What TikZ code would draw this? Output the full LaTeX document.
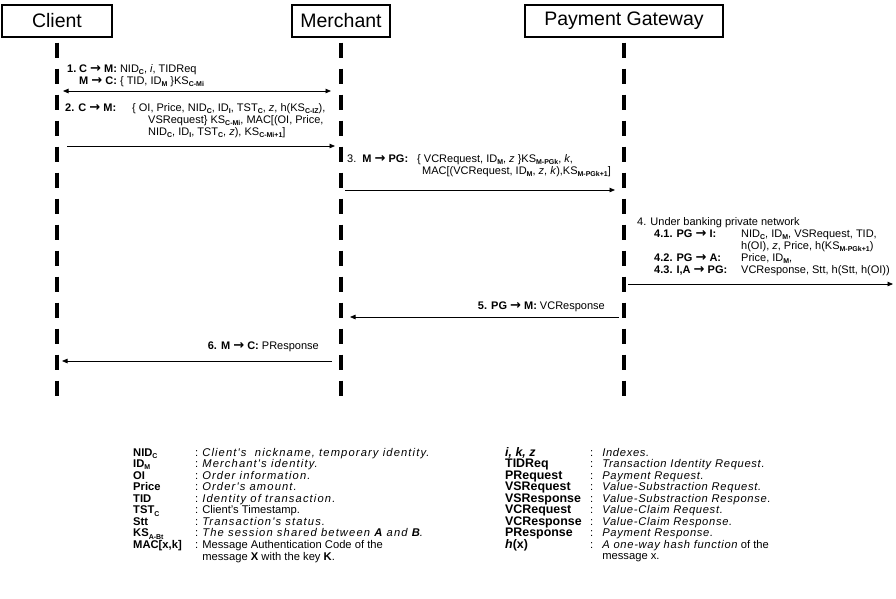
\documentclass[tikz,border=0pt]{standalone}
\usepackage{fontspec}
\setmainfont{Liberation Sans}
\newfontfamily\wideface{Liberation Sans}[LetterSpace=6]
\newfontfamily\widerface{Liberation Sans}[LetterSpace=10]
\newfontfamily\arrowface{DejaVu Sans}
\usetikzlibrary{arrows.meta}

% small bold lowered index
\newcommand\lo[1]{\raisebox{-2.3pt}{\fontsize{7}{8}\selectfont\bfseries #1}}
% arrow sign used inside the message texts
\newcommand\arr{\smash{\raisebox{-0.8pt}{\arrowface\fontsize{13}{12}\selectfont →}}}
\newcommand\msgfont{\fontsize{11}{12}\selectfont}
\newcommand\legfont{\fontsize{11.2}{11.5}\selectfont}
\newcommand\dsc[1]{{\wideface\itshape #1}}
\newcommand\dscw[1]{{\widerface\itshape #1}}
\newcommand\term[1]{\smash{\fontsize{12.4}{12}\selectfont\bfseries #1}}
\renewcommand\arraystretch{1}

\begin{document}
\begin{tikzpicture}[x=1pt,y=-1pt,
  actor/.style={draw, line width=1.3pt, minimum height=32pt, inner sep=0pt,
                font=\fontsize{19.5}{20}\selectfont},
  lifeline/.style={line width=3.2pt, dash pattern=on 15pt off 11pt},
  msgline/.style={line width=0.8pt, -{Triangle[length=5.5pt,width=4.5pt]}},
  bothline/.style={line width=0.8pt, {Triangle[length=5.5pt,width=4.5pt]}-{Triangle[length=5.5pt,width=4.5pt]}},
  txt/.style={inner sep=0pt, anchor=base west, font=\msgfont},
  txtr/.style={inner sep=0pt, anchor=base east, font=\msgfont},
  legend/.style={inner sep=0pt, anchor=base west, font=\legfont}]
\useasboundingbox (0,0) rectangle (896,598);

% participants
\node[actor, minimum width=110pt] (client) at (57,21) {Client};
\node[actor, minimum width=98pt] (merchant) at (341,21) {Merchant};
\node[actor, minimum width=198pt] (pg) at (624,21) {Payment Gateway};

% lifelines
\coordinate (clientEnd) at (57,398);
\coordinate (merchantEnd) at (341,398);
\coordinate (pgEnd) at (624,398);
\draw[lifeline] ([yshift=-5pt]client.south) -- (clientEnd);
\draw[lifeline] ([yshift=-5pt]merchant.south) -- (merchantEnd);
\draw[lifeline] ([yshift=-5pt]pg.south) -- (pgEnd);

% message 1
\node[txt] (m1) at (67,72) {\begin{tabular}[t]{@{}l@{}l@{}}
  \makebox[12pt][l]{\textbf{1.}} & \textbf{C \arr\ M:} NID\lo{C}, \textit{i}, TIDReq\\
  & \textbf{M \arr\ C:} \{ TID, ID\lo{M} \}KS\lo{C-Mi}
\end{tabular}};
\coordinate (a1s) at (63,91);
\coordinate (a1e) at (331,91);
\draw[bothline] (a1s) -- (a1e);

% message 2
\node[txt] (m2) at (65,111) {\begin{tabular}[t]{@{}l@{}l@{}}
  \makebox[67pt][l]{\textbf{2. C \arr\ M:}} & \{ OI, Price, NID\lo{C}, ID\lo{I}, TST\lo{C}, \textit{z}, h(KS\lo{C-IZ}),\\
  & \hspace{16pt}VSRequest\} KS\lo{C-Mi}, MAC[(OI, Price,\\
  & \hspace{16pt}NID\lo{C}, ID\lo{I}, TST\lo{C}, \textit{z}), KS\lo{C-Mi+1}]
\end{tabular}};
\coordinate (a2s) at (67,146);
\coordinate (a2e) at (335,146);
\draw[msgline] (a2s) -- (a2e);

% message 3
\node[txt] (m3) at (347,162) {\begin{tabular}[t]{@{}l@{}l@{}}
  \makebox[70pt][l]{3.\ \ \textbf{M \arr\ PG:}} & \{ VCRequest, ID\lo{M}, \textit{z} \}KS\lo{M-PGk}, \textit{k},\\
  & \hspace{5pt}MAC[(VCRequest, ID\lo{M}, \textit{z}, \textit{k}),KS\lo{M-PGk+1}]
\end{tabular}};
\coordinate (a3s) at (345,190);
\coordinate (a3e) at (615,190);
\draw[msgline] (a3s) -- (a3e);

% message 4
\node[txt] (m4) at (637,225) {\begin{tabular}[t]{@{}l@{}l@{}l@{}}
  \multicolumn{3}{@{}l@{}}{4. Under banking private network}\\
  \hspace{17pt} & \makebox[87pt][l]{\textbf{4.1. PG \arr\ I:}} & NID\lo{C}, ID\lo{M}, VSRequest, TID,\\
  & & h(OI), \textit{z}, Price, h(KS\lo{M-PGk+1})\\
  & \textbf{4.2. PG \arr\ A:} & Price, ID\lo{M},\\
  & \textbf{4.3. I,A \arr\ PG:} & VCResponse, Stt, h(Stt, h(OI))
\end{tabular}};
\coordinate (a4s) at (628,284);
\coordinate (a4e) at (893,284);
\draw[msgline] (a4s) -- (a4e);

% message 5
\node[txtr] (m5) at (605,309) {\textbf{5. PG \arr\ M:} VCResponse};
\coordinate (a5s) at (619,317);
\coordinate (a5e) at (350,317);
\draw[msgline] (a5s) -- (a5e);

% message 6
\node[txtr] (m6) at (319,349) {\textbf{6. M \arr\ C:} PResponse};
\coordinate (a6s) at (332,361);
\coordinate (a6e) at (62,361);
\draw[msgline] (a6s) -- (a6e);

% legend, left column
\node[legend] (legL) at (133,456) {\begin{tabular}[t]{@{}l@{}l@{\hspace{4pt}}l@{}}
  \makebox[62pt][l]{\textbf{NID\lo{C}}} & : & \dscw{Client's\ \ nickname, temporary identity.}\\
  \textbf{ID\lo{M}} & : & \dscw{Merchant's identity.}\\
  \textbf{OI} & : & \dscw{Order information.}\\
  \textbf{Price} & : & \dscw{Order's amount.}\\
  \textbf{TID} & : & \dscw{Identity of transaction.}\\
  \textbf{TST\lo{C}} & : & Client's Timestamp.\\
  \textbf{Stt} & : & \dscw{Transaction's status.}\\
  \textbf{KS\lo{A-Bt}} & : & \dscw{The session shared between \textbf{A} and \textbf{B}.}\\
  \textbf{MAC[x,k]} & : & Message Authentication Code of the\\
  & & message \textbf{X} with the key \textbf{K}.
\end{tabular}};

% legend, right column
\node[legend] (legR) at (505,456) {\begin{tabular}[t]{@{}l@{}l@{\hspace{9pt}}l@{}}
  \makebox[85pt][l]{\term{\textit{i, k, z}}} & : & \dsc{Indexes.}\\
  \term{TIDReq} & : & \dsc{Transaction Identity Request.}\\
  \term{PRequest} & : & \dsc{Payment Request.}\\
  \term{VSRequest} & : & \dsc{Value-Substraction Request.}\\
  \term{VSResponse} & : & \dsc{Value-Substraction Response.}\\
  \term{VCRequest} & : & \dsc{Value-Claim Request.}\\
  \term{VCResponse} & : & \dsc{Value-Claim Response.}\\
  \term{PResponse} & : & \dsc{Payment Response.}\\
  \term{\textit{h}(x)} & : & \dsc{A one-way hash function} of the\\
  & & message x.
\end{tabular}};
\end{tikzpicture}
\end{document}
